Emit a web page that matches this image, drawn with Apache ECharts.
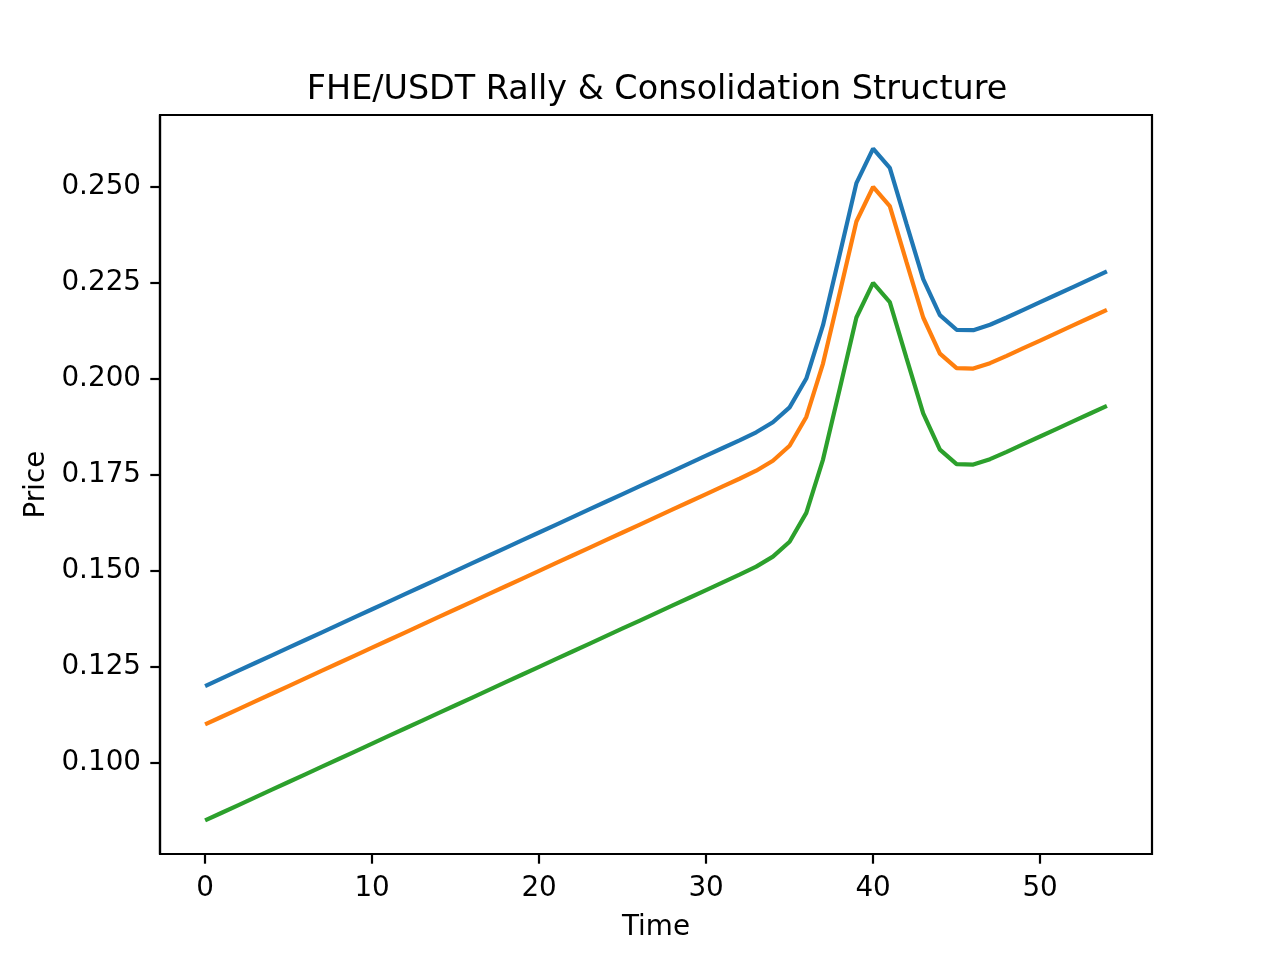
<!DOCTYPE html>
<html>
<head>
<meta charset="utf-8">
<script src="https://cdn.jsdelivr.net/npm/echarts@6/dist/echarts.min.js"></script>
<style>html,body{margin:0;padding:0;background:#fff}#c{width:1280px;height:960px}</style>
</head>
<body>
<div id="c"></div>
<script>
const time = [0,1,2,3,4,5,6,7,8,9,10,11,12,13,14,15,16,17,18,19,20,21,22,23,24,25,26,27,28,29,30,31,32,33,34,35,36,37,38,39,40,41,42,43,44,45,46,47,48,49,50,51,52,53,54];
const upper = [0.120,0.122,0.124,0.126,0.128,0.130,0.132,0.134,0.136,0.138,0.140,0.142,0.144,0.146,0.148,0.150,0.152,0.154,0.156,0.158,0.160,0.162,0.164,0.166,0.168,0.170,0.172,0.174,0.176,0.178,0.180,0.182,0.184,0.1861,0.1887,0.1926,0.2001,0.2140,0.2324,0.2510,0.2600,0.2550,0.2404,0.2260,0.2166,0.2128,0.2127,0.2141,0.2160,0.218,0.220,0.222,0.224,0.226,0.228];
const middle = [0.110,0.112,0.114,0.116,0.118,0.120,0.122,0.124,0.126,0.128,0.130,0.132,0.134,0.136,0.138,0.140,0.142,0.144,0.146,0.148,0.150,0.152,0.154,0.156,0.158,0.160,0.162,0.164,0.166,0.168,0.170,0.172,0.174,0.1761,0.1787,0.1826,0.1901,0.2040,0.2224,0.2410,0.2500,0.2450,0.2304,0.2160,0.2066,0.2028,0.2027,0.2041,0.2060,0.208,0.210,0.212,0.214,0.216,0.218];
const lower = [0.085,0.087,0.089,0.091,0.093,0.095,0.097,0.099,0.101,0.103,0.105,0.107,0.109,0.111,0.113,0.115,0.117,0.119,0.121,0.123,0.125,0.127,0.129,0.131,0.133,0.135,0.137,0.139,0.141,0.143,0.145,0.147,0.149,0.1511,0.1537,0.1576,0.1651,0.1790,0.1974,0.2160,0.2250,0.2200,0.2054,0.1910,0.1816,0.1778,0.1777,0.1791,0.1810,0.183,0.185,0.187,0.189,0.191,0.193];
const xTicks = [0,10,20,30,40,50];
const yTicks = [0.100,0.125,0.150,0.175,0.200,0.225,0.250];
const seriesNames = ['Upper','Middle','Lower'];
const colors = ['#1f77b4','#ff7f0e','#2ca02c'];

const font = 'DejaVu Sans';
const chart = echarts.init(document.getElementById('c'), null, {renderer:'canvas'});
function mk(name, vals, color){
  return {
    name: name, type:'line', showSymbol:false, symbol:'none',
    data: time.map((t,i)=>[t, vals[i]]),
    lineStyle:{color:color, width:4.2},
    itemStyle:{color:color},
    animation:false
  };
}
chart.setOption({
  animation:false,
  backgroundColor:'#fff',
  title:{
    text:'FHE/USDT Rally & Consolidation Structure',
    left:652, top:69, textAlign:'center',
    textStyle:{fontFamily:font, fontSize:33.4, fontWeight:'normal', color:'#000'}
  },
  grid:{left:160, right:128, top:115, bottom:106, show:true, borderColor:'#000', borderWidth:2.2, backgroundColor:'transparent'},
  xAxis:{
    type:'value', min:-2.7, max:56.7,
    name:'Time', nameLocation:'middle', nameGap:60,
    nameTextStyle:{fontFamily:font, fontSize:27.8, color:'#000'},
    axisLine:{show:true, onZero:false, lineStyle:{color:'#000', width:2.2}},
    splitLine:{show:false},
    axisTick:{show:true, inside:false, length:9.7, lineStyle:{color:'#000', width:2.2}, customValues:xTicks},
    axisLabel:{fontFamily:font, fontSize:27.8, color:'#000', margin:21, customValues:xTicks, formatter:v=>String(v)}
  },
  yAxis:{
    type:'value', min:0.07625, max:0.26875,
    name:'Price', nameLocation:'middle', nameGap:108, nameRotate:90,
    nameTextStyle:{fontFamily:font, fontSize:27.8, color:'#000'},
    axisLine:{show:true, onZero:false, lineStyle:{color:'#000', width:2.2}},
    splitLine:{show:false},
    axisTick:{show:true, inside:false, length:9.7, lineStyle:{color:'#000', width:2.2}, customValues:yTicks},
    axisLabel:{fontFamily:font, fontSize:27.8, color:'#000', margin:19, customValues:yTicks, formatter:v=>v.toFixed(3)}
  },
  series:[mk(seriesNames[0], upper, colors[0]), mk(seriesNames[1], middle, colors[1]), mk(seriesNames[2], lower, colors[2])]
});
</script>
</body>
</html>
